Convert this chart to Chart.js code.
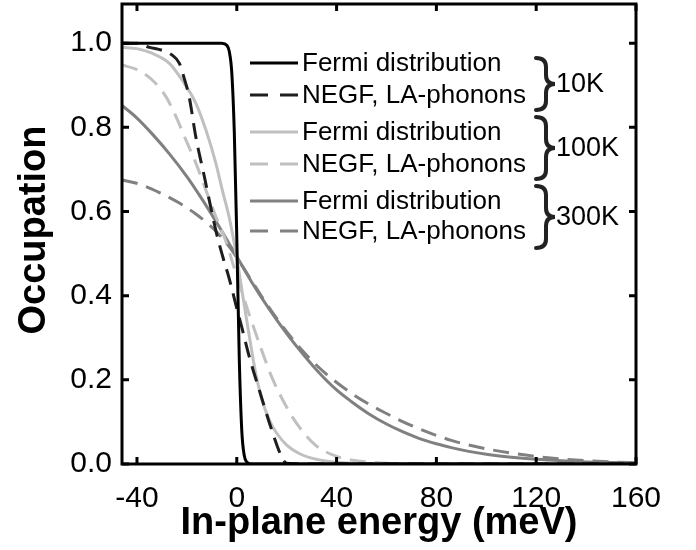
<!DOCTYPE html>
<html>
<head>
<meta charset="utf-8">
<script src="https://cdn.jsdelivr.net/npm/chart.js@4.4.1/dist/chart.umd.min.js"></script>
<style>
  html, body { margin: 0; padding: 0; background: #fff; }
  #wrap { width: 696px; height: 550px; }
</style>
</head>
<body>
<div id="wrap"><canvas id="occChart" width="696" height="550"></canvas></div>
<script>
// Energy (meV) / occupation values
const fermi10E = [-46, -6, -4, -3, -2, -1, 0, 1, 2, 3, 4, 6, 160];
const fermi10V = [1, 1, 0.995, 0.98, 0.93, 0.79, 0.54, 0.25, 0.08, 0.02, 0.005, 0, 0];

const negf10E = [-46, -40, -35, -30, -26, -23, -21, -19, -16.5, -13, -10.5, -8, -5.5, -3, 0, 2, 5, 9, 14, 18, 20, 30, 160];
const negf10V = [1, 1, 0.99, 0.983, 0.972, 0.952, 0.915, 0.87, 0.78, 0.683, 0.612, 0.545, 0.49, 0.44, 0.37, 0.325, 0.255, 0.176, 0.081, 0.017, 0.002, 0, 0];

const fermi100E = [-46, -40, -34, -27, -22, -16.4, -12.4, -8.4, -5.8, -3, 0, 2, 4.3, 7.6, 10, 13, 16, 20, 25, 30, 35, 40, 50, 60, 160];
const fermi100V = [0.99, 0.987, 0.976, 0.952, 0.913, 0.857, 0.794, 0.715, 0.651, 0.585, 0.49, 0.415, 0.33, 0.215, 0.155, 0.105, 0.073, 0.045, 0.025, 0.014, 0.008, 0.004, 0.001, 0, 0];

const negf100E = [-46, -40, -34, -28.4, -24.4, -20.4, -16.4, -12.4, -8.4, -4.4, -1, 1, 5, 10, 14, 20, 25, 31.5, 40, 49, 60, 70, 160];
const negf100V = [0.948, 0.937, 0.913, 0.873, 0.826, 0.77, 0.715, 0.651, 0.588, 0.53, 0.465, 0.428, 0.355, 0.27, 0.207, 0.135, 0.088, 0.045, 0.018, 0.007, 0.002, 0, 0];

const fermi300E = [-46, -40, -34, -27, -20, -14, -8, -3, 0, 6, 13, 20, 27, 33, 40, 46, 53, 60, 66, 73, 80, 86, 93, 100, 110, 120, 130, 140, 150, 160];
const fermi300V = [0.852, 0.822, 0.785, 0.737, 0.683, 0.63, 0.573, 0.523, 0.493, 0.432, 0.368, 0.31, 0.258, 0.217, 0.176, 0.148, 0.119, 0.095, 0.078, 0.061, 0.048, 0.039, 0.03, 0.023, 0.016, 0.011, 0.0075, 0.005, 0.0035, 0.0025];

const negf300E = [-46, -39, -31, -23, -16.4, -11, -7, -2, 3, 10, 18, 27, 36, 46, 53, 60, 66, 73, 80, 86, 93, 100, 110, 120, 130, 140, 150, 160];
const negf300V = [0.675, 0.665, 0.645, 0.62, 0.594, 0.568, 0.545, 0.508, 0.463, 0.398, 0.33, 0.265, 0.213, 0.168, 0.142, 0.12, 0.102, 0.084, 0.068, 0.056, 0.045, 0.036, 0.026, 0.018, 0.012, 0.008, 0.005, 0.003];

const xTicks = [-40, 0, 40, 80, 120, 160];
const yTicks = [0, 0.2, 0.4, 0.6, 0.8, 1.0];

const legendLabels = ['Fermi distribution', 'NEGF, LA-phonons'];
const tempLabels = ['10K', '100K', '300K'];

const BLACK = '#000000';
const DARKDASH = '#1e1e1e';
const LIGHT = '#c0c0c0';
const GRAY = '#808080';
const FONT = '"Liberation Sans", Arial, Helvetica, sans-serif';

function pts(xs, ys) {
    return xs.map((x, i) => ({ x: x, y: ys[i] }));
}

function series(label, xs, ys, color, dashed) {
    return {
        label: label,
        data: pts(xs, ys),
        borderColor: color,
        borderWidth: 3,
        borderDash: dashed ? [16, 9] : [],
        pointRadius: 0,
        fill: false,
        cubicInterpolationMode: 'monotone'
    };
}

// Frame with inward ticks, legend with braces, axis titles
const decorPlugin = {
    id: 'decor',
    afterDatasetsDraw(chart) {
        const ctx = chart.ctx;
        const a = chart.chartArea;
        const xs = chart.scales.x;
        const ys = chart.scales.y;
        ctx.save();
        ctx.strokeStyle = '#000';
        ctx.lineWidth = 3;
        ctx.setLineDash([]);
        ctx.strokeRect(a.left, a.top, a.right - a.left, a.bottom - a.top);
        const tl = 7;
        ctx.beginPath();
        xTicks.forEach(v => {
            const px = xs.getPixelForValue(v);
            ctx.moveTo(px, a.bottom); ctx.lineTo(px, a.bottom - tl);
            ctx.moveTo(px, a.top); ctx.lineTo(px, a.top + tl);
        });
        yTicks.forEach(v => {
            const py = ys.getPixelForValue(v);
            ctx.moveTo(a.left, py); ctx.lineTo(a.left + tl, py);
            ctx.moveTo(a.right, py); ctx.lineTo(a.right - tl, py);
        });
        ctx.stroke();

        // legend
        const rows = [63, 95, 132, 164, 201, 231];
        const colors = [BLACK, DARKDASH, LIGHT, LIGHT, GRAY, GRAY];
        ctx.font = '26px ' + FONT;
        ctx.textBaseline = 'middle';
        ctx.textAlign = 'left';
        rows.forEach((y, i) => {
            ctx.strokeStyle = colors[i];
            ctx.lineWidth = 3;
            ctx.setLineDash(i % 2 ? [18, 12] : []);
            ctx.beginPath();
            ctx.moveTo(250, y);
            ctx.lineTo(298, y);
            ctx.stroke();
            ctx.setLineDash([]);
            ctx.fillStyle = '#000';
            ctx.fillText(legendLabels[i % 2], 302, y + 1);
        });

        // braces
        const braces = [[58, 110], [117, 179], [186, 248]];
        ctx.strokeStyle = '#222';
        ctx.lineWidth = 4;
        ctx.lineCap = 'round';
        ctx.font = '27px ' + FONT;
        braces.forEach((b, i) => {
            const y0 = b[0], y1 = b[1], ym = (y0 + y1) / 2;
            const xl = 536, xm = 546, xr = 555, r = 9;
            ctx.beginPath();
            ctx.moveTo(xl, y0);
            ctx.quadraticCurveTo(xm, y0, xm, y0 + r);
            ctx.lineTo(xm, ym - r);
            ctx.quadraticCurveTo(xm, ym, xr, ym);
            ctx.quadraticCurveTo(xm, ym, xm, ym + r);
            ctx.lineTo(xm, y1 - r);
            ctx.quadraticCurveTo(xm, y1, xl, y1);
            ctx.stroke();
            ctx.fillStyle = '#000';
            ctx.fillText(tempLabels[i], 556, ym + 1);
        });

        // axis titles
        ctx.font = 'bold 38px ' + FONT;
        ctx.textAlign = 'center';
        ctx.textBaseline = 'alphabetic';
        ctx.fillText('In-plane energy (meV)', (a.left + a.right) / 2, 534);
        ctx.translate(45, 230);
        ctx.rotate(-Math.PI / 2);
        ctx.fillText('Occupation', 0, 0);
        ctx.restore();
    }
};

new Chart(document.getElementById('occChart'), {
    type: 'line',
    data: {
        datasets: [
            series('Fermi 10K', fermi10E, fermi10V, BLACK, false),
            series('NEGF 10K', negf10E, negf10V, DARKDASH, true),
            series('Fermi 100K', fermi100E, fermi100V, LIGHT, false),
            series('NEGF 100K', negf100E, negf100V, LIGHT, true),
            series('Fermi 300K', fermi300E, fermi300V, GRAY, false),
            series('NEGF 300K', negf300E, negf300V, GRAY, true)
        ]
    },
    options: {
        responsive: false,
        animation: false,
        devicePixelRatio: 1,
        layout: { padding: { top: 4, right: 60, left: 0, bottom: 0 } },
        plugins: {
            legend: { display: false },
            tooltip: { enabled: false }
        },
        scales: {
            x: {
                type: 'linear',
                min: -46,
                max: 160,
                afterFit: s => { s.height = 86; s.paddingLeft = 0; s.paddingRight = 0; },
                afterBuildTicks: s => { s.ticks = xTicks.map(v => ({ value: v })); },
                grid: { display: false, drawTicks: false },
                border: { display: false },
                ticks: {
                    padding: 17,
                    color: '#000',
                    font: { family: FONT, size: 30 },
                    callback: v => String(v)
                }
            },
            y: {
                min: 0,
                max: 1.093,
                afterFit: s => { s.width = 122; s.paddingTop = 0; s.paddingBottom = 0; },
                afterBuildTicks: s => { s.ticks = yTicks.map(v => ({ value: v })); },
                grid: { display: false, drawTicks: false },
                border: { display: false },
                ticks: {
                    padding: 10,
                    color: '#000',
                    font: { family: FONT, size: 30 },
                    callback: v => v.toFixed(1)
                }
            }
        }
    },
    plugins: [decorPlugin]
});
</script>
</body>
</html>
